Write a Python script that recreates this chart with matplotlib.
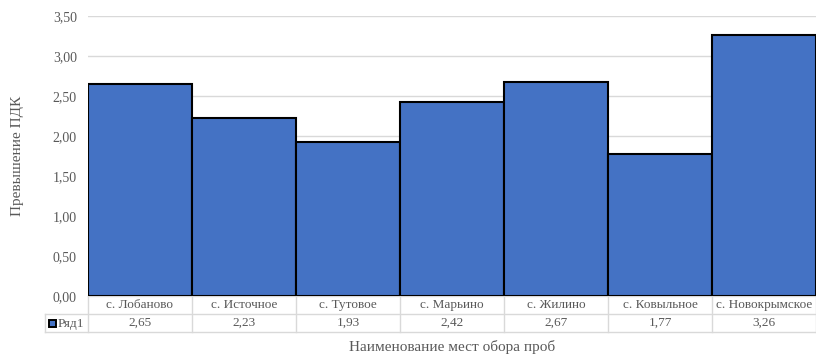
import numpy as np
import matplotlib.pyplot as plt
from matplotlib.lines import Line2D
from matplotlib.patches import Rectangle

plt.rcParams['font.family'] = ['Liberation Serif', 'DejaVu Serif']

places = ['с. Лобаново', 'с. Источное', 'с. Тутовое', 'с. Марьино',
          'с. Жилино', 'с. Ковыльное', 'с. Новокрымское']
values = [2.65, 2.23, 1.93, 2.42, 2.67, 1.77, 3.26]
series_name = 'Ряд1'
yticks = [0, 0.5, 1.0, 1.5, 2.0, 2.5, 3.0, 3.5]

W, H = 816, 356
fig = plt.figure(figsize=(W / 100, H / 100), dpi=100)
left, right, top, bottom = 88, 816, 16, 296
ax = fig.add_axes([left / W, 1 - bottom / H, (right - left) / W, (bottom - top) / H])

x = np.arange(len(places))
ax.bar(x, values, width=1.0, color='#4472c4', edgecolor='black', linewidth=1.5, zorder=3)
ax.set_xlim(-0.5, len(places) - 0.5)
ax.set_ylim(0, 3.5)
ax.set_yticks(yticks)
ax.set_yticklabels([f'{v:.2f}'.replace('.', ',') for v in yticks], fontsize=10, color='#595959')
ax.tick_params(axis='y', length=0, pad=8)
ax.set_xticks([])
ax.grid(axis='y', color='#d9d9d9', linewidth=1, zorder=0)
for s in ax.spines.values():
    s.set_visible(False)

# data table below the plot
row_h = 18 / (bottom - top)
tc = '#d9d9d9'
tr = ax.get_xaxis_transform()
lx = -0.5 - (left - 45) / ((right - left) / len(places))
for yy, x0 in [(0, -0.5), (-row_h, lx), (-2 * row_h, lx)]:
    ax.add_line(Line2D([x0, len(places) - 0.5], [yy, yy], transform=tr, color=tc,
                       linewidth=1, clip_on=False))
for i in range(len(places) + 1):
    ax.add_line(Line2D([i - 0.5, i - 0.5], [0, -2 * row_h], transform=tr, color=tc,
                       linewidth=1, clip_on=False))
ax.add_line(Line2D([lx, lx], [-row_h, -2 * row_h], transform=tr, color=tc,
                   linewidth=1, clip_on=False))
for i, (p, v) in enumerate(zip(places, values)):
    ax.text(i, -row_h / 2, p, transform=tr, ha='center', va='center', fontsize=9.5, color='#595959')
    ax.text(i, -1.5 * row_h, f'{v:.2f}'.replace('.', ','), transform=tr, ha='center',
            va='center', fontsize=9.5, color='#595959')
# legend key (pixel placement)
fig.add_artist(Rectangle((49 / W, 1 - 327 / H), 7 / W, 7 / H, transform=fig.transFigure,
                         facecolor='#4472c4', edgecolor='black', linewidth=1.4))
fig.text(58 / W, 1 - 323.5 / H, series_name, ha='left', va='center',
         fontsize=9.5, color='#595959')

fig.text(452 / W, 1 - 347 / H, 'Наименование мест обора проб', ha='center', va='center',
         fontsize=11, color='#595959')
fig.text(18 / W, 1 - 156 / H, 'Превышение ПДК', ha='center', va='center', rotation=90,
         fontsize=11, color='#595959')

fig.savefig('out.png', dpi=100)
